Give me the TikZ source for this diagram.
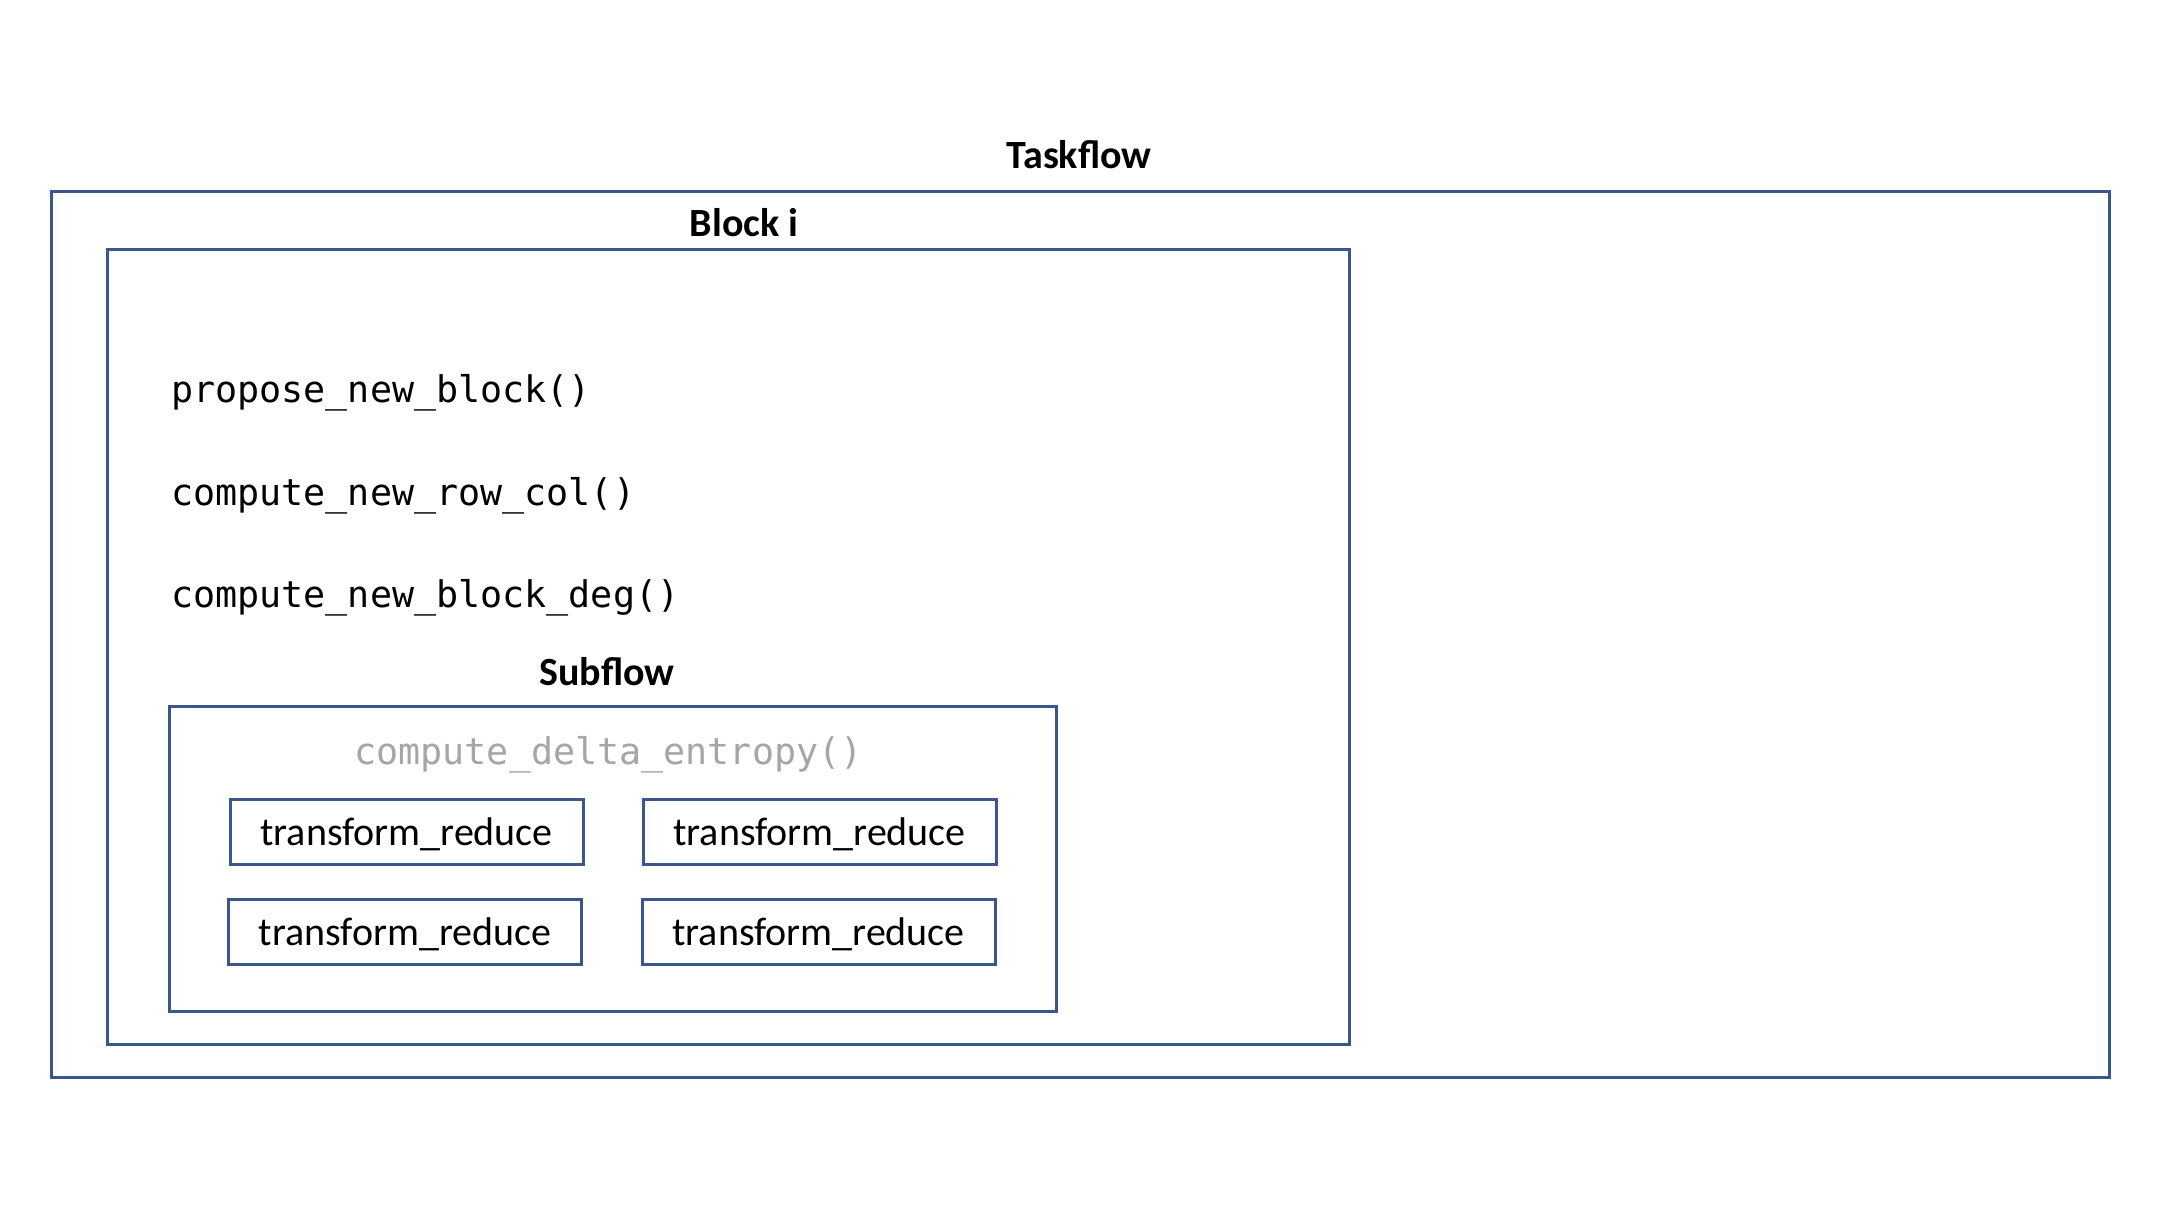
\documentclass[tikz,border=0pt]{standalone}
\usepackage{fontspec}
\setmainfont{Carlito}
\newfontfamily\codefont{DejaVu Sans Mono}
\definecolor{boxblue}{RGB}{58,86,138}
\definecolor{codegray}{RGB}{166,166,166}
\begin{document}
\begin{tikzpicture}[x=1pt,y=-1pt,
  frame/.style={draw=boxblue, line width=3pt, rectangle, inner sep=0pt},
  titletext/.style={font=\fontsize{40}{48}\selectfont\bfseries, anchor=base, inner sep=0pt},
  codetext/.style={font=\codefont\fontsize{36.7}{44}\selectfont, anchor=base west, inner sep=0pt},
  trbox/.style={frame, minimum width=353pt, minimum height=65pt, text height=30pt, text depth=3pt, font=\fontsize{40}{48}\selectfont}]
\fill[white] (0,0) rectangle (2160,1215);
\useasboundingbox (0,0) rectangle (2160,1215);
% frames
\node[frame, minimum width=2058pt, minimum height=885.5pt] (taskflow) at (1080,634.25) {};
\node[frame, minimum width=1241.5pt, minimum height=795pt] (block) at (728.25,646.5) {};
\node[frame, minimum width=887pt, minimum height=305pt] (subflow) at (613,858.5) {};
% titles
\node[titletext] (taskflowlbl) at (1079,168) {Taskflow};
\node[titletext] (blocklbl) at (744,236) {Block i};
\node[titletext] (subflowlbl) at (607,685) {Subflow};
% code lines
\node[codetext] (propose) at (171,402) {propose\_new\_block()};
\node[codetext] (rowcol) at (171,505) {compute\_new\_row\_col()};
\node[codetext] (blockdeg) at (171,607) {compute\_new\_block\_deg()};
\node[codetext, anchor=base, text=codegray] (delta) at (608.5,764) {compute\_delta\_entropy()};
% transform_reduce boxes
\node[trbox] (tr1) at (406.5,831.5) {transform\_reduce};
\node[trbox] (tr2) at (819.5,831.5) {transform\_reduce};
\node[trbox] (tr3) at (405,932) {transform\_reduce};
\node[trbox] (tr4) at (818.5,932) {transform\_reduce};
\end{tikzpicture}
\end{document}
